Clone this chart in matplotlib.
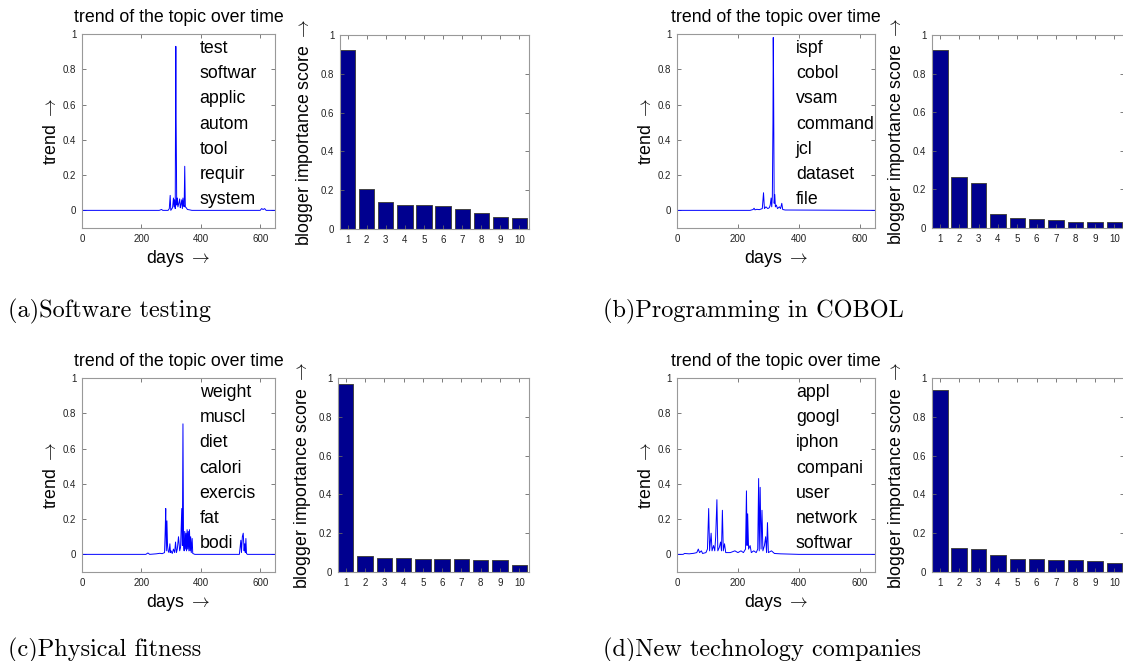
import matplotlib
matplotlib.use('Agg')
import matplotlib.pyplot as plt

plt.rcParams['font.family'] = ['Liberation Sans', 'DejaVu Sans']
plt.rcParams['mathtext.fontset'] = 'cm'

W, H = 1123, 661

# ---- data ----
topic_captions = ['(a)Software testing', '(b)Programming in COBOL',
                  '(c)Physical fitness', '(d)New technology companies']

topic_words_a = ['test', 'softwar', 'applic', 'autom', 'tool', 'requir', 'system']
topic_words_b = ['ispf', 'cobol', 'vsam', 'command', 'jcl', 'dataset', 'file']
topic_words_c = ['weight', 'muscl', 'diet', 'calori', 'exercis', 'fat', 'bodi']
topic_words_d = ['appl', 'googl', 'iphon', 'compani', 'user', 'network', 'softwar']

# (day, trend) points of each topic trend line
trend_a = [(1, 0), (260, 0), (268, 0.005), (272, 0), (290, 0), (294, 0.01), (297, 0.085),
           (299, 0), (305, 0.015), (308, 0.07), (310, 0.02), (312, 0.06), (314, 0.01),
           (315, 0.55), (316, 0.93), (317, 0.52), (319, 0.03), (321, 0.07), (323, 0.02),
           (326, 0.04), (329, 0.065), (331, 0.015), (333, 0.03), (336, 0.06), (338, 0.01),
           (340, 0.07), (342, 0.03), (344, 0.02), (346, 0.25), (348, 0.02), (351, 0.015),
           (355, 0.005), (362, 0.003), (370, 0), (600, 0), (605, 0.01), (610, 0.005),
           (615, 0.01), (620, 0), (650, 0)]

trend_b = [(1, 0), (240, 0), (250, 0.005), (253, 0.012), (256, 0.003), (262, 0.006),
           (270, 0.004), (280, 0.01), (284, 0.1), (287, 0.01), (292, 0.02), (298, 0.01),
           (303, 0.015), (306, 0.03), (309, 0.07), (311, 0.02), (313, 0.08), (315, 0.5),
           (316, 0.98), (317, 0.75), (319, 0.04), (321, 0.09), (323, 0.02), (326, 0.03),
           (330, 0.01), (336, 0.02), (340, 0.01), (344, 0.04), (347, 0.005), (355, 0.002),
           (650, 0)]

trend_c = [(1, 0), (215, 0), (222, 0.008), (228, 0), (250, 0.003), (262, 0.006),
           (270, 0.004), (278, 0.01), (280, 0.12), (282, 0.26), (284, 0.02), (286, 0.19),
           (288, 0.05), (290, 0.02), (293, 0.01), (296, 0.06), (298, 0.01), (300, 0.02),
           (304, 0.005), (308, 0.03), (312, 0.01), (315, 0.07), (318, 0.01), (321, 0.03),
           (325, 0.1), (329, 0.02), (332, 0.04), (336, 0.26), (338, 0.05), (340, 0.74),
           (342, 0.06), (344, 0.02), (346, 0.13), (348, 0.03), (350, 0.12), (352, 0.02),
           (354, 0.14), (356, 0.03), (358, 0.13), (360, 0.02), (362, 0.14), (364, 0.02),
           (366, 0.1), (368, 0.01), (371, 0.09), (373, 0.005), (376, 0.003), (380, 0),
           (530, 0), (535, 0.08), (537, 0.01), (540, 0.1), (543, 0.12), (546, 0.02),
           (548, 0.06), (550, 0.01), (552, 0.09), (554, 0.005), (557, 0), (650, 0)]

trend_d = [(1, 0), (20, 0), (25, 0.005), (40, 0.003), (55, 0.006), (65, 0.01), (70, 0.03),
           (74, 0.01), (80, 0.02), (84, 0.005), (95, 0.01), (100, 0.03), (104, 0.26),
           (107, 0.02), (112, 0.12), (115, 0.02), (120, 0.05), (124, 0.02), (127, 0.1),
           (131, 0.31), (134, 0.02), (139, 0.04), (143, 0.07), (146, 0.02), (149, 0.25),
           (152, 0.02), (156, 0.06), (160, 0.01), (175, 0.01), (190, 0.02), (200, 0.01),
           (210, 0.02), (218, 0.01), (225, 0.03), (228, 0.36), (230, 0.05), (232, 0.23),
           (235, 0.03), (240, 0.05), (244, 0.01), (252, 0.02), (260, 0.01), (265, 0.03),
           (268, 0.43), (270, 0.02), (273, 0.38), (276, 0.03), (279, 0.25), (282, 0.02),
           (287, 0.05), (291, 0.1), (294, 0.01), (297, 0.18), (300, 0.01), (310, 0.02),
           (320, 0.005), (340, 0.003), (400, 0), (650, 0)]

bar_ranks = [1, 2, 3, 4, 5, 6, 7, 8, 9, 10]
score_a = [0.925, 0.207, 0.138, 0.123, 0.122, 0.120, 0.104, 0.080, 0.062, 0.058]
score_b = [0.920, 0.266, 0.232, 0.072, 0.050, 0.047, 0.040, 0.032, 0.032, 0.030]
score_c = [0.970, 0.084, 0.072, 0.072, 0.068, 0.065, 0.065, 0.062, 0.060, 0.037]
score_d = [0.940, 0.122, 0.117, 0.087, 0.067, 0.066, 0.064, 0.062, 0.057, 0.048]

day_ticks = [0, 200, 400, 600]
unit_ticks = [0, 0.2, 0.4, 0.6, 0.8, 1.0]
unit_tick_labels = ['0', '0.2', '0.4', '0.6', '0.8', '1']

SPINE = '#999999'
BAR_COLOR = '#00008F'
ARROW = r'$\rightarrow$'


def px_axes(l, t, r, b):
    return fig.add_axes([l / W, 1 - b / H, (r - l) / W, (b - t) / H])


def style_axes(ax):
    for s in ax.spines.values():
        s.set_color(SPINE)
        s.set_linewidth(0.8)
    ax.tick_params(direction='in', top=True, right=True, length=3, width=0.6,
                   color='#666666', labelsize=7, labelcolor='#222222', pad=4)


def trend_plot(ax, points, words, word_x):
    days = [p[0] for p in points]
    vals = [p[1] for p in points]
    ax.plot(days, vals, color='blue', lw=0.7)
    ax.set_xlim(0, 650)
    ax.set_ylim(-0.1, 1)
    ax.set_xticks(day_ticks)
    ax.set_xticklabels([str(d) for d in day_ticks])
    ax.set_yticks(unit_ticks)
    ax.set_yticklabels(unit_tick_labels)
    style_axes(ax)
    ax.set_title('trend of the topic over time', fontsize=12.8, pad=9)
    ax.set_xlabel('days ' + ARROW, fontsize=12.8, labelpad=3)
    ax.set_ylabel('trend ' + ARROW, fontsize=12.8, labelpad=2)
    for i, w in enumerate(words):
        ax.text(word_x, 0.923 - i * 0.129, w, transform=ax.transAxes,
                fontsize=12.8, va='center', ha='left')


def score_plot(ax, scores):
    ax.bar(bar_ranks, scores, width=0.8, color=BAR_COLOR, edgecolor='#444444', lw=0.7)
    ax.set_xlim(0.6, 10.5)
    ax.set_ylim(0, 1)
    ax.set_xticks(bar_ranks)
    ax.set_xticklabels([str(r) for r in bar_ranks])
    ax.set_yticks(unit_ticks)
    ax.set_yticklabels(unit_tick_labels)
    style_axes(ax)
    ax.set_ylabel('blogger importance score ' + ARROW, fontsize=12.8, labelpad=4)


fig = plt.figure(figsize=(W / 100, H / 100), dpi=100)

trend_plot(px_axes(82, 34, 275, 228), trend_a, topic_words_a, 0.61)
score_plot(px_axes(340, 35, 529, 229), score_a)
trend_plot(px_axes(677, 34, 875, 228), trend_b, topic_words_b, 0.60)
score_plot(px_axes(932, 35, 1124, 228), score_b)
trend_plot(px_axes(82, 378, 275, 572), trend_c, topic_words_c, 0.61)
score_plot(px_axes(338, 378, 529, 572), score_c)
trend_plot(px_axes(677, 378, 875, 572), trend_d, topic_words_d, 0.60)
score_plot(px_axes(932, 378, 1124, 572), score_d)

caption_pos = [(8, 317), (603, 317), (8, 656), (603, 656)]
for cap, (cx, cy) in zip(topic_captions, caption_pos):
    fig.text(cx / W, 1 - cy / H, cap, fontfamily='cmr10', fontsize=17.5,
             ha='left', va='baseline')

fig.savefig('out.png', dpi=100)
